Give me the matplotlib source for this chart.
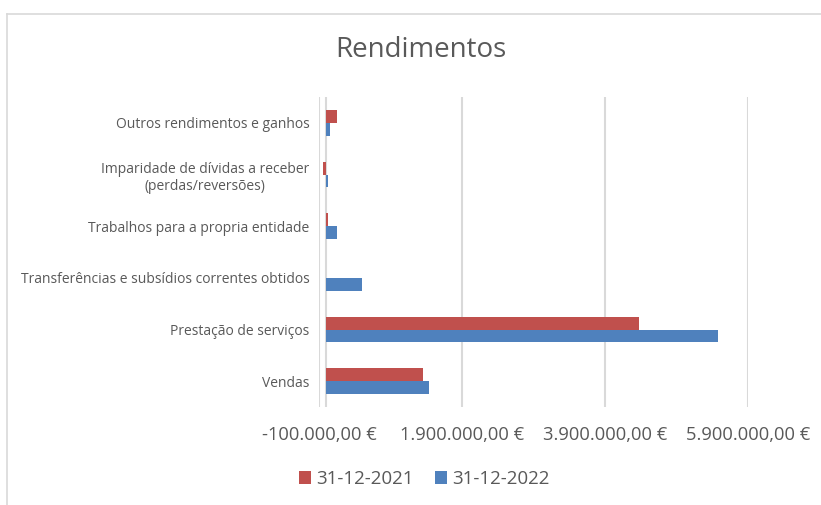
import numpy as np
import matplotlib.pyplot as plt
from matplotlib.lines import Line2D
from matplotlib.ticker import FuncFormatter

# data (bottom to top, as drawn)
categories = [
    "Vendas",
    "Prestação de serviços",
    "Transferências e subsídios correntes obtidos",
    "Trabalhos para a propria entidade",
    "Imparidade de dívidas a receber\n(perdas/reversões)",
    "Outros rendimentos e ganhos",
]
vals_2021 = [1360000, 4370000, 0, 30000, -40000, 150000]
vals_2022 = [1440000, 5480000, 495000, 150000, 30000, 60000]
series_names = ["31-12-2021", "31-12-2022"]
x_ticks = [-100000, 1900000, 3900000, 5900000]

RED = "#c0504d"
BLUE = "#4f81bd"
GREY = "#595959"
GRID = "#d9d9d9"

plt.rcParams["font.family"] = ["Open Sans", "DejaVu Sans"]


def euro(v, pos=None):
    s = f"{v:,.2f}"
    s = s.replace(",", "X").replace(".", ",").replace("X", ".")
    return s + " €"


fig = plt.figure(figsize=(8.21, 5.05), dpi=100)
ax = fig.add_axes([319 / 821, 1 - 407 / 505, (748 - 319) / 821, (407 - 97) / 505])

y = np.arange(len(categories))
h = 0.25
ax.barh(y + h / 2, vals_2021, height=h, color=RED, label=series_names[0], zorder=3)
ax.barh(y - h / 2, vals_2022, height=h, color=BLUE, label=series_names[1], zorder=3)

ax.set_xlim(x_ticks[0], x_ticks[-1])
ax.set_ylim(-0.5, len(categories) - 0.5)
ax.set_xticks(x_ticks)
ax.xaxis.set_major_formatter(FuncFormatter(euro))
ax.set_yticks(y)
ax.set_yticklabels(categories, fontsize=10, color=GREY, multialignment="center")

ax.grid(axis="x", color=GRID, linewidth=1.5, zorder=0)
ax.axvline(0, color=GRID, linewidth=1.5, zorder=1)
for s in ax.spines.values():
    s.set_visible(False)
ax.tick_params(axis="x", length=0, pad=14, labelsize=13.2, labelcolor=GREY)
ax.tick_params(axis="y", length=0, pad=7)

fig.text(421 / 821, 1 - 50 / 505, "Rendimentos", ha="center", va="center",
         fontsize=20, color=GREY)

fig.legend(loc="center", bbox_to_anchor=(424 / 821, 1 - 479 / 505), ncol=2,
           frameon=False, fontsize=13.5, labelcolor=GREY, handlelength=0.65,
           handleheight=0.7, handletextpad=0.25, columnspacing=1.15)

# chart border (top and left edges visible)
fig.add_artist(Line2D([7 / 821, 1], [1 - 14 / 505] * 2, transform=fig.transFigure,
                      color=GRID, linewidth=1.2))
fig.add_artist(Line2D([7 / 821] * 2, [0, 1 - 14 / 505], transform=fig.transFigure,
                      color=GRID, linewidth=1.2))

fig.savefig("out.png", dpi=100, facecolor="white")
